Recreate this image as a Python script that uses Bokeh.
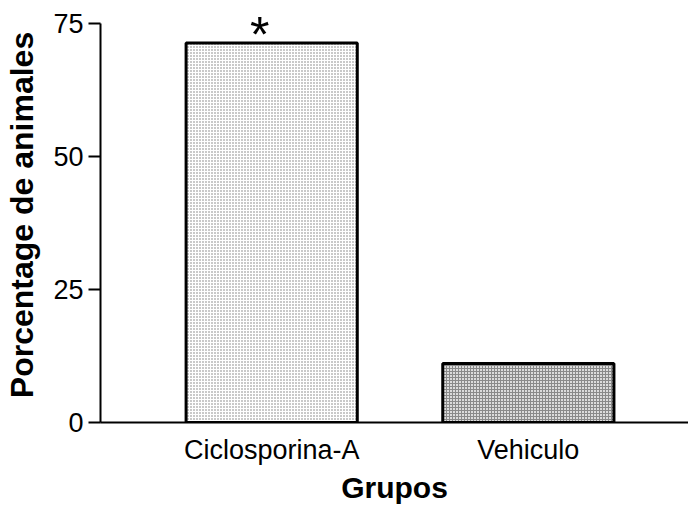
from bokeh.plotting import figure
from bokeh.models import Range1d, FixedTicker, Label
from bokeh.embed import file_html
from bokeh.resources import INLINE

categories = ["Ciclosporina-A", "Vehiculo"]
values = [71.4, 11.1]
significance = ["*", ""]
y_ticks = [0, 25, 50, 75]
x_title = "Grupos"
y_title = "Porcentage de animales"

FONT = "Liberation Sans"
xs = [i + 1 for i in range(len(categories))]

p = figure(width=688, height=506, output_backend="svg", toolbar_location=None,
           x_range=Range1d(0.333, 2.624), y_range=Range1d(0, 78.09),
           min_border_left=100, min_border_right=0, min_border_top=7,
           min_border_bottom=81)
p.outline_line_color = None
p.grid.visible = False
p.background_fill_color = "white"

p.vbar(x=[xs[0]], top=[values[0]], width=0.667, bottom=0,
       fill_color="white", line_color="black", line_width=3,
       hatch_pattern="dot", hatch_color="#777777", hatch_scale=3, hatch_weight=1)
p.vbar(x=[xs[1]], top=[values[1]], width=0.667, bottom=0,
       fill_color="#dcdcdc", line_color="black", line_width=3,
       hatch_pattern="cross", hatch_color="#8a8a8a", hatch_scale=3, hatch_weight=1)

# y axis
ya = p.yaxis[0]
ya.ticker = FixedTicker(ticks=y_ticks)
ya.bounds = (y_ticks[0], y_ticks[-1])
ya.major_tick_out = 12
ya.major_tick_in = 0
ya.minor_tick_out = 0
ya.minor_tick_in = 0
ya.axis_line_width = 2
ya.major_tick_line_width = 2
ya.major_label_text_font = FONT
ya.major_label_text_font_size = "27px"
ya.major_label_text_color = "black"
ya.major_label_standoff = 5
ya.axis_label = y_title
ya.axis_label_text_font = FONT
ya.axis_label_text_font_size = "32px"
ya.axis_label_text_font_style = "bold"
ya.axis_label_text_color = "black"
ya.axis_label_standoff = 10

# x axis
xa = p.xaxis[0]
xa.ticker = FixedTicker(ticks=xs)
xa.major_label_overrides = {x: c for x, c in zip(xs, categories)}
xa.major_tick_out = 0
xa.major_tick_in = 0
xa.minor_tick_out = 0
xa.minor_tick_in = 0
xa.axis_line_width = 2
xa.major_label_text_font = FONT
xa.major_label_text_font_size = "27px"
xa.major_label_text_color = "black"
xa.major_label_standoff = 12
xa.axis_label = x_title
xa.axis_label_text_font = FONT
xa.axis_label_text_font_size = "30px"
xa.axis_label_text_font_style = "bold"
xa.axis_label_text_color = "black"
xa.axis_label_standoff = 3

# significance marks
for xv, v, s in zip(xs, values, significance):
    if s:
        p.add_layout(Label(x=xv, y=v, text=s, text_font=FONT, text_font_size="50px",
                           text_align="center", text_baseline="alphabetic",
                           x_offset=-12, y_offset=8, text_color="black"))

open("out.html", "w").write(file_html(p, INLINE))
